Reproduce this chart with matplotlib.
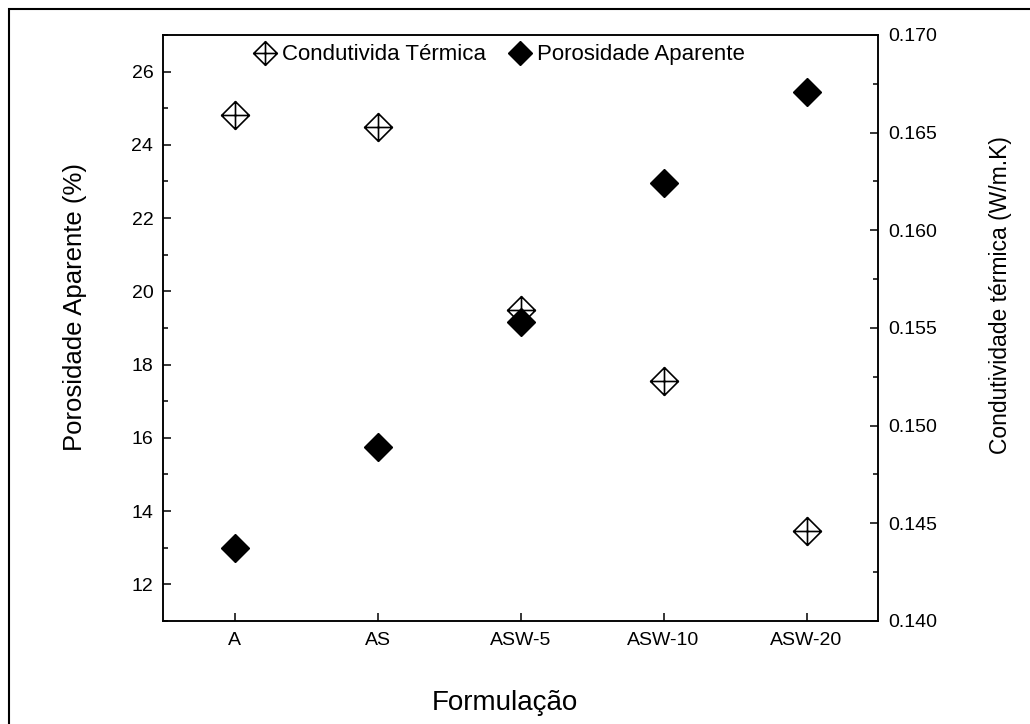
import matplotlib
matplotlib.use("Agg")
import matplotlib.pyplot as plt
from matplotlib.path import Path
from matplotlib.patches import Rectangle
from matplotlib.ticker import MultipleLocator, FormatStrFormatter

plt.rcParams['font.family'] = ['Liberation Sans', 'DejaVu Sans']

formulacoes = ["A", "AS", "ASW-5", "ASW-10", "ASW-20"]
porosidade = [13.0, 15.75, 19.15, 22.95, 25.45]          # %
condutividade = [0.1659, 0.1653, 0.1559, 0.1523, 0.1446]  # W/m.K

# diamond with an inscribed cross
verts = [(0, 1), (1, 0), (0, -1), (-1, 0), (0, 1),
         (0, 1), (0, -1),
         (-1, 0), (1, 0)]
codes = [Path.MOVETO, Path.LINETO, Path.LINETO, Path.LINETO, Path.CLOSEPOLY,
         Path.MOVETO, Path.LINETO,
         Path.MOVETO, Path.LINETO]
cross_diamond = Path(verts, codes)

fig = plt.figure(figsize=(10.30, 7.24), dpi=100)
ax = fig.add_axes([0.1583, 0.1423, 0.6942, 0.8094])
ax2 = ax.twinx()

x = list(range(len(formulacoes)))

h1, = ax2.plot(x, condutividade, linestyle='none', marker=cross_diamond,
               markersize=20, markerfacecolor='none', markeredgecolor='black',
               markeredgewidth=1.2, label='Condutivida Térmica')
h2, = ax.plot(x, porosidade, linestyle='none', marker='D', markersize=14.5,
              color='black', label='Porosidade Aparente')
ax.set_zorder(ax2.get_zorder() + 1)
ax.patch.set_visible(False)

ax.set_xlim(-0.5, 4.5)
ax.set_ylim(11, 27)
ax2.set_ylim(0.140, 0.170)
ax.set_xticks(x)
ax.set_xticklabels(formulacoes)
ax.yaxis.set_major_locator(MultipleLocator(2))
ax.yaxis.set_minor_locator(MultipleLocator(1))
ax2.yaxis.set_major_locator(MultipleLocator(0.005))
ax2.yaxis.set_minor_locator(MultipleLocator(0.0025))
ax2.yaxis.set_major_formatter(FormatStrFormatter('%.3f'))

for a in (ax, ax2):
    for s in a.spines.values():
        s.set_linewidth(1.1)
ax.tick_params(axis='both', which='major', direction='in', length=6, width=1.1,
               labelsize=14, pad=7, top=False, right=False)
ax.tick_params(axis='y', which='minor', direction='in', length=3.5, width=1.1)
ax.tick_params(axis='x', which='minor', bottom=False)
ax.tick_params(axis='x', which='major', pad=8)
ax2.tick_params(axis='y', which='major', direction='in', length=6, width=1.1,
                labelsize=14, pad=7)
ax2.tick_params(axis='y', which='minor', direction='in', length=3.5, width=1.1)

ax.set_xlabel('Formulação', fontsize=20)
ax.xaxis.set_label_coords(0.478, -0.14)
ax.xaxis.label.set_verticalalignment('center')
ax.set_ylabel('Porosidade Aparente (%)', fontsize=18.5)
ax.yaxis.set_label_coords(-0.123, 0.536)
ax.yaxis.label.set_verticalalignment('center')
ax2.set_ylabel('Condutividade térmica (W/m.K)', fontsize=16.5)
ax2.yaxis.set_label_coords(1.171, 0.557)
ax2.yaxis.label.set_verticalalignment('center')

ax.legend(handles=[h1, h2], loc='center', bbox_to_anchor=(0.470, 0.966),
          ncol=2, frameon=False, fontsize=16, handlelength=1.0,
          handletextpad=0.25, columnspacing=1.05, borderpad=0, markerscale=0.85)

# page frame around the figure
fig.patches.append(Rectangle((9 / 1030, -0.2), 1.2, 1 - 9 / 724 + 0.2,
                             transform=fig.transFigure, fill=False,
                             edgecolor='black', linewidth=1.5))

fig.savefig('out.png', dpi=100)
